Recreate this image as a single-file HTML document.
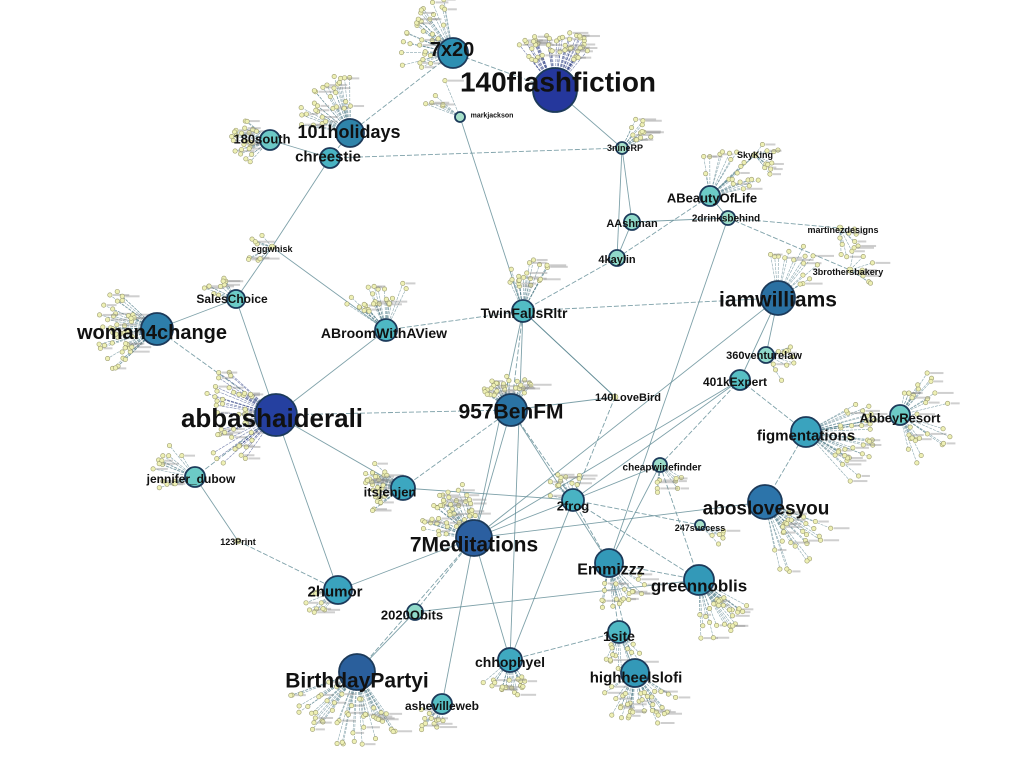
<!DOCTYPE html>
<html><head><meta charset="utf-8"><style>
html,body{margin:0;padding:0;background:#fff;width:1024px;height:766px;overflow:hidden}
svg text{font-family:"Liberation Sans",sans-serif;font-weight:bold;fill:#111;text-anchor:middle;dominant-baseline:central}
</style></head><body>
<svg id="g" width="1024" height="766" xmlns="http://www.w3.org/2000/svg">
<g id="edges"></g><g id="small"></g><g id="hubs"></g><g id="labels">
<text x="558" y="82" font-size="28">140flashfiction</text>
<text x="452" y="50" font-size="20">7x20</text>
<text x="349" y="132" font-size="18">101holidays</text>
<text x="328" y="157" font-size="15">chreestie</text>
<text x="262" y="139" font-size="13">180south</text>
<text x="272" y="249" font-size="9">eggwhisk</text>
<text x="232" y="299" font-size="12">SalesChoice</text>
<text x="152" y="333" font-size="20">woman4change</text>
<text x="272" y="418" font-size="26">abbashaiderali</text>
<text x="191" y="479" font-size="12">jennifer_dubow</text>
<text x="238" y="542" font-size="9">123Print</text>
<text x="335" y="592" font-size="15">2humor</text>
<text x="357" y="681" font-size="21">BirthdayPartyi</text>
<text x="442" y="706" font-size="12">ashevilleweb</text>
<text x="412" y="615" font-size="13">2020Obits</text>
<text x="474" y="545" font-size="21">7Meditations</text>
<text x="390" y="492" font-size="13">itsjenjen</text>
<text x="511" y="412" font-size="21">957BenFM</text>
<text x="384" y="333" font-size="14">ABroomWithAView</text>
<text x="524" y="313" font-size="14">TwinFallsRltr</text>
<text x="617" y="260" font-size="11">4kaylin</text>
<text x="632" y="224" font-size="11">AAshman</text>
<text x="712" y="198" font-size="13">ABeautyOfLife</text>
<text x="726" y="219" font-size="10">2drinksbehind</text>
<text x="755" y="155" font-size="9">SkyKing</text>
<text x="843" y="230" font-size="9">martinezdesigns</text>
<text x="848" y="272" font-size="9">3brothersbakery</text>
<text x="778" y="300" font-size="21">iamwilliams</text>
<text x="764" y="356" font-size="11">360venturelaw</text>
<text x="735" y="382" font-size="12">401kExpert</text>
<text x="806" y="436" font-size="15">figmentations</text>
<text x="900" y="418" font-size="13">AbbeyResort</text>
<text x="628" y="398" font-size="11">140LoveBird</text>
<text x="662" y="468" font-size="10">cheapwinefinder</text>
<text x="700" y="528" font-size="9">247success</text>
<text x="573" y="506" font-size="13">2frog</text>
<text x="611" y="570" font-size="16">Emmizzz</text>
<text x="699" y="586" font-size="17">greennoblis</text>
<text x="619" y="636" font-size="14">1site</text>
<text x="636" y="678" font-size="15">highheelslofi</text>
<text x="510" y="662" font-size="14">chhophyel</text>
<text x="766" y="509" font-size="19">aboslovesyou</text>
<text x="625" y="148" font-size="9">3nineRP</text>
<text x="492" y="116" font-size="7">markjackson</text>
</g></svg>
<script>
var NS="http://www.w3.org/2000/svg";
function el(p,t,a){var e=document.createElementNS(NS,t);for(var k in a)e.setAttribute(k,a[k]);document.getElementById(p).appendChild(e);return e;}
var seed=7;function rnd(){seed=(seed*16807)%2147483647;return seed/2147483647;}
var H={
f140:[555,90,22,"#25379c"],x7:[453,53,15,"#2d8fb2"],h101:[350,133,14,"#2f84aa"],chr:[330,158,10,"#49b3c3"],s180:[270,140,10,"#6cc8c6"],
egg:[272,247,3,"#e8ecb0"],sal:[236,299,9,"#6ccbc6"],w4c:[157,329,16,"#2d7eaa"],abb:[276,415,21,"#2540a0"],jen:[195,477,10,"#6ccbc6"],
p123:[238,541,3,"#e8ecb0"],hum:[338,590,14,"#3aa3be"],bir:[357,672,18,"#2a5f9c"],ash:[442,704,10,"#57bfc4"],obi:[415,612,8,"#8fd9c9"],
med:[474,538,18,"#2b5fa0"],its:[403,488,12,"#3ca7c0"],ben:[511,410,16,"#2a73a4"],abr:[386,330,11,"#4eb8c4"],twi:[523,311,11,"#52bcc4"],
k4:[617,258,8,"#8fd9c9"],aas:[632,222,8,"#8fd9c9"],abe:[710,196,10,"#6ccbc6"],drk:[728,218,7,"#9bdcc9"],sky:[755,155,3,"#e8ecb0"],
mar:[840,228,3,"#e8ecb0"],bro:[850,270,3,"#e8ecb0"],iam:[778,298,17,"#2a70a2"],v360:[766,355,8,"#8fd9c9"],k401:[740,380,10,"#57bfc4"],
fig:[806,432,15,"#3aa3be"],abb2:[900,415,10,"#6ccbc6"],love:[615,397,3,"#e8ecb0"],chw:[660,465,7,"#9bdcc9"],abo:[765,502,17,"#2c74aa"],
s247:[700,525,5,"#a6e0c9"],frg:[573,500,11,"#49b3c3"],emm:[609,563,14,"#3399b8"],grn:[699,580,15,"#3399b8"],st1:[619,632,11,"#4eb8c4"],
hhl:[635,673,14,"#3399b8"],chh:[510,660,12,"#3fa9c0"],r3n:[622,148,6,"#a6e0c9"],mjk:[460,117,5,"#a6e0c9"]};
var E=[["f140","x7"],["f140","r3n"],["x7","h101"],["h101","chr"],["chr","s180"],["chr","egg"],["chr","r3n"],["mjk","twi"],["r3n","aas"],["r3n","k4"],
["egg","sal"],["sal","w4c"],["sal","abb"],["w4c","abb"],["abb","jen"],["abb","abr"],["abb","its"],["abb","ben"],["jen","p123"],["p123","hum"],
["hum","med"],["bir","obi"],["obi","med"],["ash","med"],["med","ben"],["med","frg"],["med","abo"],["med","iam"],["med","twi"],["its","frg"],
["its","ben"],["ben","frg"],["ben","emm"],["ben","twi"],["abr","twi"],["twi","k4"],["twi","iam"],["k4","abe"],["k4","aas"],["aas","drk"],
["abe","drk"],["abe","sky"],["drk","mar"],["drk","bro"],["iam","v360"],["iam","k401"],["k401","fig"],["k401","chw"],["k401","frg"],["fig","abb2"],
["fig","abo"],["love","frg"],["love","twi"],["chw","frg"],["chw","emm"],["chw","grn"],["frg","emm"],["frg","grn"],["frg","s247"],["emm","st1"],
["emm","grn"],["st1","hhl"],["chh","med"],["chh","st1"],["chh","frg"],["emm","hhl"],["obi","grn"],["hum","abb"],["ben","love"],["drk","emm"],
["abr","egg"],["twi","love"],["med","k401"],["bir","med"],["chh","twi"]];
E.forEach(function(p){var a=H[p[0]],b=H[p[1]];el("edges","line",{x1:a[0],y1:a[1],x2:b[0],y2:b[1],stroke:"#5f8a94","stroke-width":0.9,"stroke-dasharray":rnd()<.5?"5,2":"none",opacity:.8});});
var C=[["f140",45,-90,80,35,60],["x7",35,-150,110,20,55],["h101",30,-130,90,25,60],["s180",25,180,100,15,40],["w4c",45,180,90,25,60],
["abb",45,175,100,30,75],["jen",15,200,80,20,45],["bir",50,110,110,25,75],["med",45,-130,90,20,55],["its",30,180,90,20,40],
["ben",30,-100,100,20,35],["abr",25,-110,100,25,50],["twi",20,-90,60,25,55],["abe",20,-60,110,20,55],["iam",15,-60,80,25,60],
["v360",12,20,80,10,30],["fig",35,10,80,35,70],["abb2",30,0,160,15,55],["abo",30,50,60,25,75],["grn",30,60,70,25,60],
["hhl",35,90,120,20,55],["emm",20,60,90,20,45],["st1",15,80,100,15,40],["chh",20,100,90,20,40],["hum",10,150,60,20,35],
["ash",12,120,90,15,35],["s247",6,30,50,15,30],["mar",10,40,120,10,30],["bro",8,-20,120,10,25],["r3n",12,-40,60,15,35],
["sky",10,0,120,10,25],["frg",12,-120,100,15,30],["egg",8,180,100,15,30],["sal",10,-140,70,15,35],["mjk",6,-150,80,20,40],["chw",8,70,90,15,30]];
C.forEach(function(c){var h=H[c[0]];for(var i=0;i<c[1];i++){var a=(c[2]+(rnd()-.5)*c[3])*Math.PI/180,r=c[4]+rnd()*(c[5]-c[4]);
var x=h[0]+Math.cos(a)*r,y=h[1]+Math.sin(a)*r;
el("edges","line",{x1:h[0],y1:h[1],x2:x,y2:y,stroke:h[2]>18?"#3a4a8a":"#56808c","stroke-width":0.6,"stroke-dasharray":"3,1",opacity:.7});
el("small","circle",{cx:x,cy:y,r:2.2,fill:"#eef0b4",stroke:"#9a9a70","stroke-width":0.6});
if(rnd()<.5)el("small","rect",{x:x+3,y:y-1,width:8+rnd()*10,height:2,fill:"#888",opacity:.4});}});
for(var k in H){var h=H[k];el("hubs","circle",{cx:h[0],cy:h[1],r:h[2],fill:h[3],stroke:h[2]>3?"#1c3a5a":"#9a9a70","stroke-width":h[2]>3?1.8:0.6});}
</script>
</body></html>
